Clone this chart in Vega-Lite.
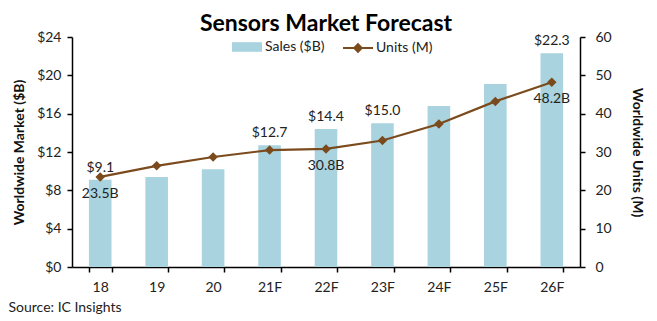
{
  "$schema": "https://vega.github.io/schema/vega-lite/v6.json",
  "width": 508,
  "height": 230,
  "autosize": {"type": "none"},
  "padding": {"left": 72, "top": 37, "right": 77, "bottom": 54},
  "background": "white",
  "config": {
    "font": "Lato",
    "view": {"stroke": null},
    "axis": {"domainColor": "#000", "tickColor": "#000", "labelColor": "#222", "titleColor": "#111", "labelFont": "Lato", "titleFont": "Lato", "grid": false, "labelOverlap": false}
  },
  "title": {"text": "Sensors Market Forecast", "fontSize": 23, "fontWeight": "bold", "color": "#000", "anchor": "middle", "offset": -6, "font": "Lato"},
  "data": {"values": [
    {"year": "18", "sales": 9.1, "units": 23.5, "salesLabel": "$9.1", "unitsLabel": "23.5B"},
    {"year": "19", "sales": 9.4, "units": 26.4, "salesLabel": null, "unitsLabel": null},
    {"year": "20", "sales": 10.2, "units": 28.7, "salesLabel": null, "unitsLabel": null},
    {"year": "21F", "sales": 12.7, "units": 30.5, "salesLabel": "$12.7", "unitsLabel": null},
    {"year": "22F", "sales": 14.4, "units": 30.8, "salesLabel": "$14.4", "unitsLabel": "30.8B"},
    {"year": "23F", "sales": 15.0, "units": 33.0, "salesLabel": "$15.0", "unitsLabel": null},
    {"year": "24F", "sales": 16.8, "units": 37.3, "salesLabel": null, "unitsLabel": null},
    {"year": "25F", "sales": 19.1, "units": 43.2, "salesLabel": null, "unitsLabel": null},
    {"year": "26F", "sales": 22.3, "units": 48.2, "salesLabel": "$22.3", "unitsLabel": "48.2B"}
  ]},
  "encoding": {
    "x": {"field": "year", "type": "ordinal", "sort": null,
      "scale": {"paddingInner": 0.6, "paddingOuter": 0.3},
      "axis": {"labelAngle": 0, "labelFontSize": 14, "labelPadding": 8, "tickSize": 5, "tickBand": "extent", "domainWidth": 1.5, "tickWidth": 1.5,
        "title": "Source: IC Insights", "titleFontSize": 14, "titleFontWeight": "normal", "titleAnchor": "start", "titleAlign": "left", "titleBaseline": "middle", "titleX": -64, "titleY": 40, "titleColor": "#222"}}
  },
  "layer": [
    {
      "layer": [
        {
          "mark": {"type": "bar", "color": "#a9d3df"},
          "encoding": {
            "y": {"field": "sales", "type": "quantitative", "scale": {"domain": [0, 24]},
              "axis": {"orient": "left", "values": [0, 4, 8, 12, 16, 20, 24], "labelOverlap": false, "labelExpr": "'$' + datum.value", "labelFontSize": 14, "labelPadding": 6, "tickSize": 5, "domainWidth": 1.5, "tickWidth": 1.5,
                "title": "Worldwide Market ($B)", "titleFontSize": 14, "titleFontWeight": "bold", "titlePadding": 10}},
            "color": {"datum": "Sales ($B)", "type": "nominal", "scale": {"range": ["#a9d3df"]},
              "legend": {"title": null, "orient": "none", "legendX": 160, "legendY": -5, "symbolType": "M-1,-0.32H1V0.32H-1Z", "symbolSize": 900, "symbolStrokeWidth": 0, "labelFontSize": 14, "labelColor": "#222", "labelFont": "Lato", "labelOffset": 3}}
          }
        },
        {
          "transform": [{"filter": "datum.salesLabel != null"}],
          "mark": {"type": "text", "baseline": "bottom", "dy": -5, "fontSize": 14, "color": "#222"},
          "encoding": {
            "y": {"field": "sales", "type": "quantitative",
              "axis": {"orient": "left", "values": [0, 4, 8, 12, 16, 20, 24], "labelOverlap": false, "title": "Worldwide Market ($B)"}},
            "text": {"field": "salesLabel"}
          }
        }
      ]
    },
    {
      "layer": [
        {
          "mark": {"type": "line", "color": "#7b4b1d", "strokeWidth": 2.2, "point": {"shape": "diamond", "size": 45, "filled": true, "color": "#7b4b1d"}},
          "encoding": {
            "y": {"field": "units", "type": "quantitative", "scale": {"domain": [0, 60]},
              "axis": {"orient": "right", "values": [0, 10, 20, 30, 40, 50, 60], "labelOverlap": false, "labelFontSize": 14, "labelPadding": 10, "tickSize": 5, "domainWidth": 1.5, "tickWidth": 1.5,
                "title": "Worldwide Units (M)", "titleFontSize": 14, "titleFontWeight": "bold", "titlePadding": 18}},
            "stroke": {"datum": "Units (M)", "type": "nominal", "scale": {"range": ["#7b4b1d"]},
              "legend": {"title": null, "orient": "none", "legendX": 270, "legendY": -5, "symbolType": "M-1,0H1M-0.25,0L0,-0.25L0.25,0L0,0.25Z", "symbolSize": 900, "symbolStrokeWidth": 2, "symbolFillColor": "#7b4b1d", "labelFontSize": 14, "labelColor": "#222", "labelFont": "Lato", "labelOffset": 2}}
          }
        },
        {
          "transform": [{"filter": "datum.unitsLabel != null"}],
          "mark": {"type": "text", "baseline": "top", "dy": 10, "fontSize": 14, "color": "#222"},
          "encoding": {
            "y": {"field": "units", "type": "quantitative",
              "axis": {"orient": "right", "values": [0, 10, 20, 30, 40, 50, 60], "labelOverlap": false, "title": "Worldwide Units (M)"}},
            "text": {"field": "unitsLabel"}
          }
        }
      ]
    }
  ],
  "resolve": {"scale": {"y": "independent"}}
}
